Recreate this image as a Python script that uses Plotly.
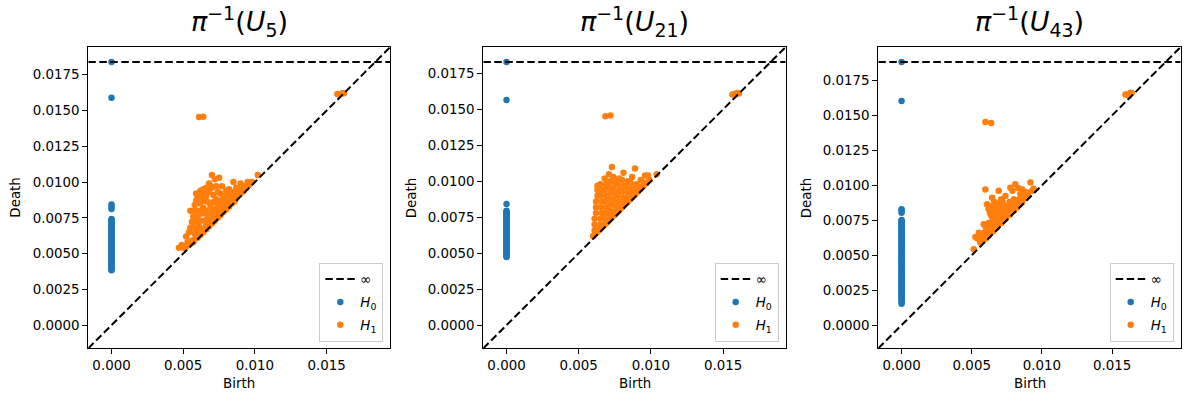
import numpy as np
import plotly.graph_objects as go

INF = float("inf")

# ---------------- data ----------------
panel_titles = ["<i>π</i><sup>−1</sup>(<i>U</i><sub>5</sub>)",
                "<i>π</i><sup>−1</sup>(<i>U</i><sub>21</sub>)",
                "<i>π</i><sup>−1</sup>(<i>U</i><sub>43</sub>)"]

# level at which infinite deaths are drawn (the dashed "∞" line)
inf_level = [0.01839, 0.01829, 0.01881]
# shared square axis ranges per panel
axis_range = [(-0.00162, 0.01944), (-0.00161, 0.01934), (-0.00166, 0.01989)]

x_ticks = [0.0, 0.005, 0.010, 0.015]
y_ticks = [0.0, 0.0025, 0.0050, 0.0075, 0.0100, 0.0125, 0.0150, 0.0175]

# H0 deaths (all births are 0)
h0_u5 = [INF, 0.01590, 0.00843, 0.00827, 0.00812, 0.00741, 0.00735, 0.00728, 0.00719,
         0.00711, 0.00703, 0.00695, 0.00688, 0.00679, 0.00671, 0.00664, 0.00655, 0.00647,
         0.00638, 0.00630, 0.00622, 0.00613, 0.00605, 0.00597, 0.00588, 0.00580, 0.00572,
         0.00563, 0.00556, 0.00547, 0.00539, 0.00531, 0.00522, 0.00514, 0.00505, 0.00497,
         0.00489, 0.00480, 0.00472, 0.00463, 0.00455, 0.00446, 0.00438, 0.00429, 0.00421,
         0.00412, 0.00404, 0.00396, 0.00389, 0.00383]
h0_u21 = [INF, 0.01565, 0.00842, 0.00795, 0.00789, 0.00782, 0.00776, 0.00768, 0.00761,
          0.00755, 0.00747, 0.00740, 0.00733, 0.00726, 0.00718, 0.00711, 0.00704, 0.00697,
          0.00689, 0.00682, 0.00675, 0.00668, 0.00660, 0.00653, 0.00646, 0.00638, 0.00631,
          0.00624, 0.00617, 0.00609, 0.00602, 0.00595, 0.00588, 0.00580, 0.00573, 0.00566,
          0.00559, 0.00551, 0.00544, 0.00537, 0.00530, 0.00522, 0.00515, 0.00508, 0.00501,
          0.00494, 0.00486, 0.00479, 0.00473]
h0_u43 = [INF, 0.01603, 0.00829, 0.00818, 0.00803, 0.00752, 0.00744, 0.00735, 0.00726,
          0.00716, 0.00707, 0.00699, 0.00688, 0.00679, 0.00671, 0.00660, 0.00652, 0.00643,
          0.00633, 0.00624, 0.00615, 0.00606, 0.00597, 0.00588, 0.00578, 0.00569, 0.00560,
          0.00551, 0.00541, 0.00532, 0.00523, 0.00514, 0.00505, 0.00495, 0.00486, 0.00477,
          0.00468, 0.00459, 0.00449, 0.00440, 0.00431, 0.00422, 0.00412, 0.00403, 0.00394,
          0.00385, 0.00376, 0.00366, 0.00357, 0.00348, 0.00339, 0.00329, 0.00320, 0.00311,
          0.00302, 0.00292, 0.00283, 0.00274, 0.00265, 0.00255, 0.00246, 0.00237, 0.00228,
          0.00218, 0.00209, 0.00200, 0.00189, 0.00178, 0.00166, 0.00153]

# H1 (birth, death) pairs
h1_u5 = [
    (0.0047, 0.0054), (0.0049, 0.0056), (0.0050, 0.0054), (0.0052, 0.0055), (0.0053, 0.0058),
    (0.0054, 0.0056), (0.0055, 0.0057), (0.0056, 0.0059), (0.0057, 0.0058), (0.0058, 0.0060),
    (0.0059, 0.0062), (0.0060, 0.0061), (0.0061, 0.0064), (0.0062, 0.0063), (0.0063, 0.0066),
    (0.0064, 0.0065), (0.0065, 0.0068), (0.0066, 0.0067), (0.0067, 0.0070), (0.0068, 0.0069),
    (0.0069, 0.0072), (0.0070, 0.0071), (0.0071, 0.0074), (0.0072, 0.0073), (0.0073, 0.0076),
    (0.0074, 0.0075), (0.0075, 0.0078), (0.0076, 0.0077), (0.0077, 0.0080), (0.0078, 0.0079),
    (0.0079, 0.0082), (0.0080, 0.0081), (0.0081, 0.0084), (0.0082, 0.0083), (0.0083, 0.0086),
    (0.0084, 0.0085), (0.0085, 0.0088), (0.0086, 0.0087), (0.0087, 0.0089), (0.0088, 0.0090),
    (0.0089, 0.0091), (0.0090, 0.0092), (0.0091, 0.0093), (0.0092, 0.0094), (0.0094, 0.0096),
    (0.0096, 0.0098), (0.0098, 0.0100), (0.0102, 0.0105),
    (0.0052, 0.0062), (0.0054, 0.0065), (0.0055, 0.0068), (0.0056, 0.0072), (0.0057, 0.0076),
    (0.0058, 0.0080), (0.0058, 0.0084), (0.0059, 0.0087), (0.0060, 0.0090), (0.0062, 0.0094),
    (0.0063, 0.0091), (0.0064, 0.0087), (0.0064, 0.0082), (0.0063, 0.0078), (0.0062, 0.0073),
    (0.0061, 0.0069), (0.0060, 0.0066), (0.0058, 0.0064), (0.0057, 0.0068), (0.0059, 0.0072),
    (0.0060, 0.0076), (0.0061, 0.0080), (0.0062, 0.0085), (0.0066, 0.0096), (0.0068, 0.0099),
    (0.0070, 0.0105), (0.0072, 0.0102), (0.0075, 0.0103), (0.0066, 0.0090), (0.0067, 0.0086),
    (0.0068, 0.0093), (0.0070, 0.0096), (0.0071, 0.0091), (0.0073, 0.0097), (0.0074, 0.0093),
    (0.0077, 0.0097), (0.0076, 0.0092), (0.0078, 0.0090), (0.0080, 0.0094), (0.0082, 0.0095),
    (0.0085, 0.0100), (0.0087, 0.0096), (0.0090, 0.0099), (0.0093, 0.0097), (0.0095, 0.0100),
    (0.0066, 0.0080), (0.0067, 0.0076), (0.0065, 0.0073), (0.0069, 0.0083), (0.0070, 0.0079),
    (0.0071, 0.0086), (0.0072, 0.0081), (0.0073, 0.0088), (0.0074, 0.0084), (0.0075, 0.0080),
    (0.0076, 0.0087), (0.0077, 0.0084), (0.0078, 0.0087), (0.0079, 0.0089), (0.0080, 0.0086),
    (0.0081, 0.0091), (0.0083, 0.0090), (0.0084, 0.0093), (0.0086, 0.0092), (0.0088, 0.0094),
    (0.0089, 0.0096), (0.0091, 0.0096), (0.0069, 0.0076), (0.0073, 0.0079), (0.0066, 0.0071),
    (0.0059, 0.0092), (0.0061, 0.0088), (0.0065, 0.0093), (0.0069, 0.0097), (0.0064, 0.0095),
    (0.0055, 0.0080),
    (0.0061, 0.01455), (0.0064, 0.01457),
    (0.01575, 0.01615), (0.0159, 0.0161), (0.0161, 0.0162), (0.0162, 0.0162),
]
h1_u21 = [
    (0.0060, 0.0062), (0.0061, 0.0063), (0.0062, 0.0064), (0.0063, 0.0065), (0.0064, 0.0066),
    (0.0065, 0.0067), (0.0066, 0.0068), (0.0067, 0.0069), (0.0068, 0.0070), (0.0069, 0.0071),
    (0.0070, 0.0072), (0.0071, 0.0073), (0.0072, 0.0074), (0.0073, 0.0075), (0.0074, 0.0076),
    (0.0075, 0.0077), (0.0076, 0.0078), (0.0077, 0.0079), (0.0078, 0.0080), (0.0079, 0.0081),
    (0.0080, 0.0082), (0.0081, 0.0083), (0.0082, 0.0084), (0.0083, 0.0085), (0.0084, 0.0086),
    (0.0085, 0.0087), (0.0086, 0.0088), (0.0087, 0.0089), (0.0088, 0.0090), (0.0089, 0.0091),
    (0.0090, 0.0092), (0.0091, 0.0093), (0.0093, 0.0095), (0.0095, 0.0097), (0.0097, 0.0099),
    (0.0099, 0.0101), (0.0104, 0.0105),
    (0.0061, 0.0066), (0.0061, 0.0070), (0.0061, 0.0074), (0.0062, 0.0078), (0.0062, 0.0082),
    (0.0062, 0.0086), (0.0063, 0.0090), (0.0063, 0.0094), (0.0063, 0.0097),
    (0.0065, 0.0070), (0.0065, 0.0074), (0.0066, 0.0078), (0.0065, 0.0082), (0.0066, 0.0086),
    (0.0065, 0.0090), (0.0066, 0.0094), (0.0065, 0.0098),
    (0.0068, 0.0074), (0.0068, 0.0078), (0.0069, 0.0082), (0.0068, 0.0086), (0.0069, 0.0090),
    (0.0068, 0.0094), (0.0069, 0.0098), (0.0068, 0.0102),
    (0.0071, 0.0076), (0.0071, 0.0080), (0.0072, 0.0084), (0.0071, 0.0088), (0.0072, 0.0092),
    (0.0071, 0.0096), (0.0072, 0.0100), (0.0071, 0.0105), (0.0073, 0.0110), (0.0074, 0.0103),
    (0.0074, 0.0079), (0.0075, 0.0083), (0.0074, 0.0087), (0.0075, 0.0091), (0.0074, 0.0095),
    (0.0075, 0.0099),
    (0.0077, 0.0082), (0.0078, 0.0086), (0.0077, 0.0090), (0.0078, 0.0094), (0.0077, 0.0098),
    (0.0078, 0.0102),
    (0.0080, 0.0085), (0.0081, 0.0089), (0.0080, 0.0093), (0.0081, 0.0097), (0.0080, 0.0101),
    (0.0081, 0.0106),
    (0.0083, 0.0088), (0.0084, 0.0092), (0.0083, 0.0096), (0.0084, 0.0100),
    (0.0086, 0.0091), (0.0087, 0.0095), (0.0086, 0.0099), (0.0087, 0.0103),
    (0.0089, 0.0094), (0.0090, 0.0098), (0.0089, 0.0109),
    (0.0092, 0.0096), (0.0093, 0.0101), (0.0095, 0.0099), (0.0096, 0.0104), (0.0098, 0.0104),
    (0.00685, 0.01453), (0.0072, 0.01458),
    (0.01565, 0.01604), (0.0158, 0.0160), (0.0159, 0.0161), (0.0160, 0.01615), (0.0161, 0.0161),
]
h1_u43 = [
    (0.00514, 0.00543), (0.0056, 0.0059), (0.0058, 0.0061), (0.0060, 0.0062), (0.0062, 0.0064),
    (0.0063, 0.0066), (0.0065, 0.0067), (0.0066, 0.0069), (0.0068, 0.0070), (0.0069, 0.0072),
    (0.0071, 0.0073), (0.0072, 0.0075), (0.0074, 0.0076), (0.0075, 0.0078), (0.0077, 0.0079),
    (0.0078, 0.0081), (0.0080, 0.0082), (0.0082, 0.0084), (0.0084, 0.0086), (0.0086, 0.0088),
    (0.0088, 0.0091), (0.0090, 0.0093), (0.0093, 0.0096),
    (0.00526, 0.0063), (0.0055, 0.00661), (0.0054, 0.0062), (0.0057, 0.0064), (0.0059, 0.0066),
    (0.00585, 0.00721), (0.0060, 0.0070), (0.0061, 0.0068), (0.0062, 0.0073), (0.0063, 0.0071),
    (0.00609, 0.00864), (0.0062, 0.0083), (0.0063, 0.0080), (0.0064, 0.0078), (0.0064, 0.0085),
    (0.0065, 0.0082), (0.0065, 0.0076), (0.0066, 0.0073), (0.0066, 0.0088), (0.0067, 0.0080),
    (0.0067, 0.0085), (0.0068, 0.0077), (0.0068, 0.0083), (0.0069, 0.0087), (0.0069, 0.0075),
    (0.0070, 0.0081), (0.0070, 0.0079), (0.0071, 0.0084), (0.0072, 0.0078), (0.0072, 0.0088),
    (0.0073, 0.0082), (0.0074, 0.0080), (0.0075, 0.0085), (0.0076, 0.0083), (0.0077, 0.0088),
    (0.0078, 0.0086), (0.0080, 0.0090), (0.0081, 0.0087), (0.00787, 0.0084), (0.00823, 0.00888),
    (0.0084, 0.0090), (0.00882, 0.00911), (0.00846, 0.00936), (0.0087, 0.0094), (0.0089, 0.0095),
    (0.00597, 0.0097), (0.00692, 0.0096), (0.00775, 0.00983), (0.0081, 0.01007), (0.00918, 0.01019),
    (0.00941, 0.00976), (0.0074, 0.00924), (0.00645, 0.00911), (0.0071, 0.0090), (0.0079, 0.0096),
    (0.0083, 0.0098), (0.0086, 0.0097),
    (0.00597, 0.01452), (0.00638, 0.01445),
    (0.01595, 0.0165), (0.0161, 0.0165), (0.01631, 0.01661), (0.0162, 0.0164), (0.0164, 0.0166),
]

h0_sets = [h0_u5, h0_u21, h0_u43]
h1_sets = [h1_u5, h1_u21, h1_u43]

# ---------------- figure ----------------
W, H = 1189, 401
BLUE, ORANGE = "#1f77b4", "#ff7f0e"
FONT = "DejaVu Sans"
x_dom_px = [(88.3, 390.3), (483.3, 785.7), (878.3, 1180.7)]
y_top_px, y_bot_px = 47.0, 348.3
death_label_px = [16, 411.7, 806.7]

fig = go.Figure()
layout = dict(width=W, height=H, margin=dict(l=0, r=0, t=0, b=0),
              paper_bgcolor="white", plot_bgcolor="white",
              font=dict(family=FONT, size=13.4, color="black"),
              showlegend=True, annotations=[])

for i in range(3):
    k = "" if i == 0 else str(i + 1)
    xa, ya = "x" + k, "y" + k
    leg = "legend" + k
    lo, hi = axis_range[i]
    deaths0 = [inf_level[i] if np.isinf(d) else d for d in h0_sets[i]]
    b1 = [p[0] for p in h1_sets[i]]
    d1 = [p[1] for p in h1_sets[i]]

    fig.add_trace(go.Scatter(x=[0.0] * len(deaths0), y=deaths0, mode="markers",
                             marker=dict(color=BLUE, size=6.5, line=dict(width=0)),
                             name="<i>H</i><sub>0</sub>", xaxis=xa, yaxis=ya,
                             legend=leg, legendrank=2, legendgroup="h0" + k))
    fig.add_trace(go.Scatter(x=b1, y=d1, mode="markers",
                             marker=dict(color=ORANGE, size=6.5, line=dict(width=0)),
                             name="<i>H</i><sub>1</sub>", xaxis=xa, yaxis=ya,
                             legend=leg, legendrank=3, legendgroup="h1" + k))
    fig.add_trace(go.Scatter(x=[lo, hi], y=[lo, hi], mode="lines",
                             line=dict(color="black", width=2, dash="7.5px,3.5px"),
                             showlegend=False, xaxis=xa, yaxis=ya, hoverinfo="skip"))
    fig.add_trace(go.Scatter(x=[lo, hi], y=[inf_level[i], inf_level[i]], mode="lines",
                             line=dict(color="black", width=2, dash="7.5px,3.5px"),
                             name="∞", xaxis=xa, yaxis=ya, legend=leg, legendrank=1,
                             legendgroup="inf" + k))

    x0, x1 = x_dom_px[i]
    axis_common = dict(showline=True, linecolor="black", linewidth=1, mirror=True,
                       ticks="outside", ticklen=5, tickwidth=1, tickcolor="black",
                       showgrid=False, zeroline=False, range=[lo, hi],
                       tickfont=dict(family=FONT, size=13.4, color="black"))
    layout["xaxis" + k] = dict(axis_common, domain=[x0 / W, x1 / W], anchor=ya,
                               tickvals=x_ticks, tickformat=".3f")
    layout["yaxis" + k] = dict(axis_common, domain=[(H - y_bot_px) / H, (H - y_top_px) / H],
                               anchor=xa, tickvals=y_ticks, tickformat=".4f")
    layout[leg] = dict(xref="paper", yref="paper", x=(x1 - 7) / W, y=(H - y_bot_px + 6.5) / H,
                       xanchor="right", yanchor="bottom", bgcolor="rgba(255,255,255,0.8)",
                       bordercolor="#cccccc", borderwidth=1,
                       font=dict(family=FONT, size=13.4, color="black"),
                       traceorder="grouped", tracegroupgap=2.5, itemwidth=30)
    cx = (x0 + x1) / 2 / W
    layout["annotations"] += [
        dict(text=panel_titles[i], xref="paper", yref="paper", x=cx, y=(H - 43) / H,
             xanchor="center", yanchor="bottom", showarrow=False,
             font=dict(family=FONT, size=27, color="black")),
        dict(text="Birth", xref="paper", yref="paper", x=cx, y=(H - 383) / H,
             xanchor="center", yanchor="middle", showarrow=False,
             font=dict(family=FONT, size=13.4, color="black")),
        dict(text="Death", xref="paper", yref="paper", x=death_label_px[i] / W,
             y=(H - (y_top_px + y_bot_px) / 2) / H, xanchor="center", yanchor="middle",
             textangle=-90, showarrow=False, font=dict(family=FONT, size=13.4, color="black")),
    ]

fig.update_layout(**layout)
fig.write_html("out.html")
